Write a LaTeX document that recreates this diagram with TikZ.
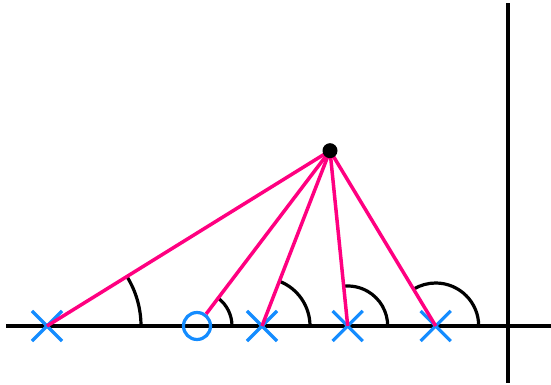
\documentclass[tikz,border=0pt]{standalone}
\usetikzlibrary{shapes.misc}
\definecolor{pinkline}{RGB}{255,0,128}
\definecolor{markblue}{RGB}{20,140,255}
\begin{document}
\begin{tikzpicture}[x=1pt,y=1pt,
  axisline/.style={line width=4pt,black},
  ray/.style={line width=3.5pt,pinkline},
  anglearc/.style={line width=3.2pt,black},
  polemark/.style={cross out,draw=markblue,line width=3.2pt,minimum size=27pt,inner sep=0pt},
  zeromark/.style={circle,draw=markblue,line width=3.2pt,minimum size=27pt,inner sep=0pt}]
\useasboundingbox (0,0) rectangle (551,385);
% axes
\coordinate (xl) at (6,59);
\coordinate (xr) at (551,59);
\coordinate (yb) at (508,2);
\coordinate (yt) at (508,382);
\draw[axisline] (xl) -- (xr);
\draw[axisline] (yb) -- (yt);
% pole/zero positions
\coordinate (p1) at (47,59);
\coordinate (z1) at (197,59);
\coordinate (p2) at (262,59);
\coordinate (p3) at (347.7,59);
\coordinate (p4) at (435.7,59);
\coordinate (s) at (330,234.3);
% angle arcs
\draw[anglearc] (p1) ++(94,0) arc[start angle=0,end angle=31.8,radius=94];
\draw[anglearc] (z1) ++(35,0) arc[start angle=0,end angle=52.8,radius=35];
\draw[anglearc] (p2) ++(48,0) arc[start angle=0,end angle=68.8,radius=48];
\draw[anglearc] (p3) ++(40,0) arc[start angle=0,end angle=95.8,radius=40];
\draw[anglearc] (p4) ++(43,0) arc[start angle=0,end angle=121.1,radius=43];
% markers
\node[polemark] (m1) at (p1) {};
\node[zeromark] (mz) at (z1) {};
\node[polemark] (m2) at (p2) {};
\node[polemark] (m3) at (p3) {};
\node[polemark] (m4) at (p4) {};
% rays
\draw[ray] (s) -- (m1.center);
\draw[ray] (s) -- (mz);
\draw[ray] (s) -- (m2.center);
\draw[ray] (s) -- (m3.center);
\draw[ray] (s) -- (m4.center);
\node[circle,fill=black,minimum size=15pt,inner sep=0pt] (sp) at (s) {};
\end{tikzpicture}
\end{document}
